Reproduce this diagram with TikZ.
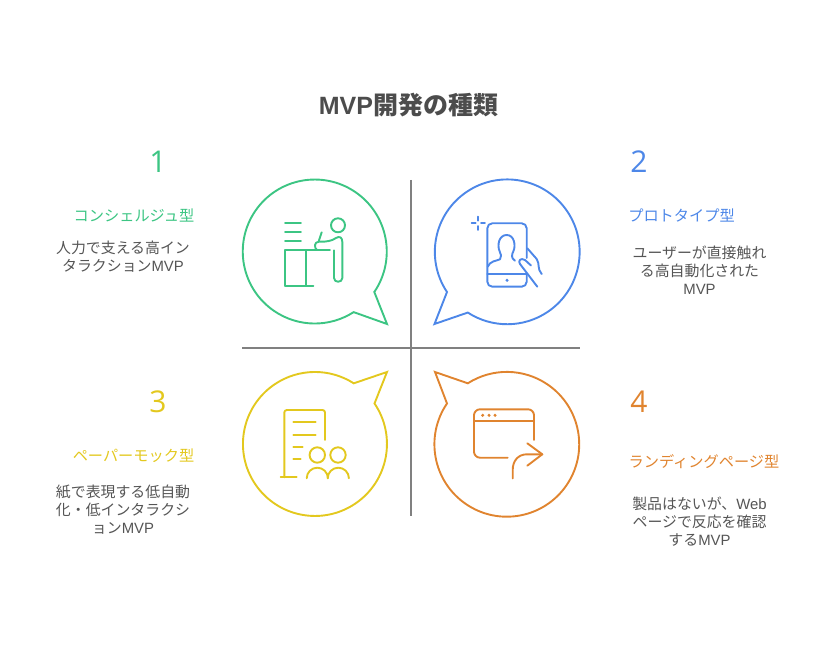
\documentclass[tikz,border=0pt]{standalone}
\usepackage{fontspec}
\setmainfont{Noto Sans CJK JP}
\newfontfamily\latfont{Liberation Sans}
\newfontfamily\numfont{Open Sans}
\definecolor{mvpgreen}{HTML}{3CC583}
\definecolor{mvpblue}{HTML}{4D87E8}
\definecolor{mvpyellow}{HTML}{E3C81E}
\definecolor{mvporange}{HTML}{E0842F}
\definecolor{mvpgrey}{HTML}{808080}
\definecolor{mvptext}{HTML}{555555}
\tikzset{
  bubble/.style={line width=1.9pt, line join=miter},
  icon/.style={line width=1.9pt, line cap=round, line join=round, rounded corners=0pt},
  divider/.style={mvpgrey, line width=1.7pt},
  numtext/.style={font=\fontsize{30}{30}\numfont, inner sep=0pt},
  headtext/.style={font=\fontsize{15.2}{18}\selectfont, inner sep=0pt},
  bodytext/.style={font=\fontsize{14.9}{18}\selectfont, text=mvptext, align=center, inner sep=0pt},
}
\begin{document}
\begin{tikzpicture}[x=1pt,y=-1pt]
  \useasboundingbox (0,0) rectangle (819,668);
  \node[font=\fontsize{25}{25}\selectfont\bfseries, text=mvptext!90!black, inner sep=0pt] (title) at (408.5,105.5) {{\latfont MVP}開発の種類};

  \draw[divider] (411,180) -- (411,516); %v
  \draw[divider] (242,348) -- (580,348); %h

  % bubbles
  \draw[bubble, mvpgreen] (374.3,292) arc[start angle=-34.2, end angle=302.7, radius=72pt] -- (387,324) -- cycle;
  \draw[bubble, mvpblue] (447,292) arc[start angle=213.7, end angle=-123, radius=72.4pt] -- (434.5,324) -- cycle;
  \draw[bubble, mvpyellow] (374.5,403.5) arc[start angle=34.2, end angle=-302.6, radius=72pt] -- (387,372) -- cycle;
  \draw[bubble, mvporange] (447,403.5) arc[start angle=145.7, end angle=482.6, radius=72.4pt] -- (435,372) -- cycle;

  % icon 1
  \begin{scope}[icon, mvpgreen]
    \foreach \y in {223.3,232.3,241.3} \draw (285,\y) -- (301,\y);
    \draw (338,225.3) circle (7pt);
    \draw (285,285.7) -- (285,250.3) -- (330,250.3);
    \draw (285,285.7) -- (313.3,285.7);
    \draw (306,250.3) -- (306,285.7);
    \draw (321.7,232.3) -- (318.7,241.3);
    \draw (334,250.3) -- (334,278) .. controls (334,283) and (342.3,283) .. (342.3,278) -- (342.3,241.7) .. controls (342.3,237) and (339,236) .. (336,238) .. controls (332,241) and (326,241.7) .. (321.7,241.7) -- (319,241.7) .. controls (314,241.7) and (314,248) .. (317,250);
  \end{scope}

  % icon 2
  \begin{scope}[icon, mvpblue]
    \draw[rounded corners=5pt] (526.7,258) -- (526.7,223.3) -- (487.3,223.3) -- (487.3,286.7) -- (526.7,286.7) -- (526.7,273);
    \draw (487.3,274.3) -- (526.7,274.3);
    \fill (507,280.3) circle (1.7pt);
    \draw (487.7,266.7) .. controls (490,261) and (496,261) .. (500,259.3) .. controls (502,257) and (501,254) .. (499.5,251) .. controls (497,245) and (499,235) .. (506.7,235) .. controls (514,235) and (516,245) .. (513.5,251) .. controls (512,254) and (510.5,258) .. (515,260.7);
    \draw (527.3,248.3) -- (536.7,259) .. controls (540,264) and (537,269) .. (541.7,274);
    \draw (531,265.5) -- (525,260) .. controls (521,257.5) and (517.5,260.5) .. (520,264) -- (537.3,286.7);
    \draw (478.3,216.7) -- (478.3,220.7);
    \draw (478.3,226) -- (478.3,230);
    \draw (471.7,223.3) -- (475.7,223.3);
    \draw (481,223.3) -- (485,223.3);
  \end{scope}

  % icon 3
  \begin{scope}[icon, mvpyellow]
    \draw (280.7,477.3) -- (296.7,477.3);
    \draw[rounded corners=2.5pt] (284.3,477.3) -- (284.3,410) -- (325,410) -- (325,440);
    \draw (293.3,422.3) -- (315.7,422.3);
    \draw (293.3,434.7) -- (315.7,434.7);
    \draw (293.3,446.7) -- (302.7,446.7);
    \draw (293.3,458.7) -- (300.7,458.7);
    \draw (317.3,455) circle (7.7pt);
    \draw (338,455) circle (7.7pt);
    \draw (306.7,478.3) arc[start angle=180, end angle=0, radius=10.6pt];
    \draw (327.7,478.3) arc[start angle=180, end angle=0, radius=10.6pt];
  \end{scope}

  % icon 4
  \begin{scope}[icon, mvporange]
    \draw[rounded corners=6pt] (534,440) -- (534,409.3) -- (474,409.3) -- (474,457.7) -- (507.7,457.7);
    \draw (474,421.3) -- (534,421.3);
    \foreach \x in {482.7,489,495} \fill (\x,415.3) circle (1.7pt);
    \draw (512.7,478.5) -- (512.7,470) .. controls (512.7,461) and (518,454.3) .. (527,454.3) -- (542.3,454.3);
    \draw (527.3,443.3) -- (542.3,454.3) -- (527.3,465.7);
  \end{scope}

  \node[numtext, text=mvpgreen] (num1) at (158,162) {1};
  \node[numtext, text=mvpblue] (num2) at (639,162) {2};
  \node[numtext, text=mvpyellow] (num3) at (158,402) {3};
  \node[numtext, text=mvporange] (num4) at (639,402) {4};

  \node[headtext, text=mvpgreen] (head1) at (134,215.5) {コンシェルジュ型};
  \node[headtext, text=mvpblue] (head2) at (681.5,215.5) {プロトタイプ型};
  \node[headtext, text=mvpyellow] (head3) at (133.5,455.5) {ペーパーモック型};
  \node[headtext, text=mvporange] (head4) at (704,461.5) {ランディングページ型};

  \node[bodytext] (body1) at (123,257) {人力で支える高イン\\タラクション{\latfont MVP}};
  \node[bodytext] (body2) at (699.5,270) {ユーザーが直接触れ\\る高自動化された\\{\latfont MVP}};
  \node[bodytext] (body3) at (123,510) {紙で表現する低自動\\化・低インタラクシ\\ョン{\latfont MVP}};
  \node[bodytext] (body4) at (699.5,522) {製品はないが、{\latfont Web}\\ページで反応を確認\\する{\latfont MVP}};
\end{tikzpicture}
\end{document}
